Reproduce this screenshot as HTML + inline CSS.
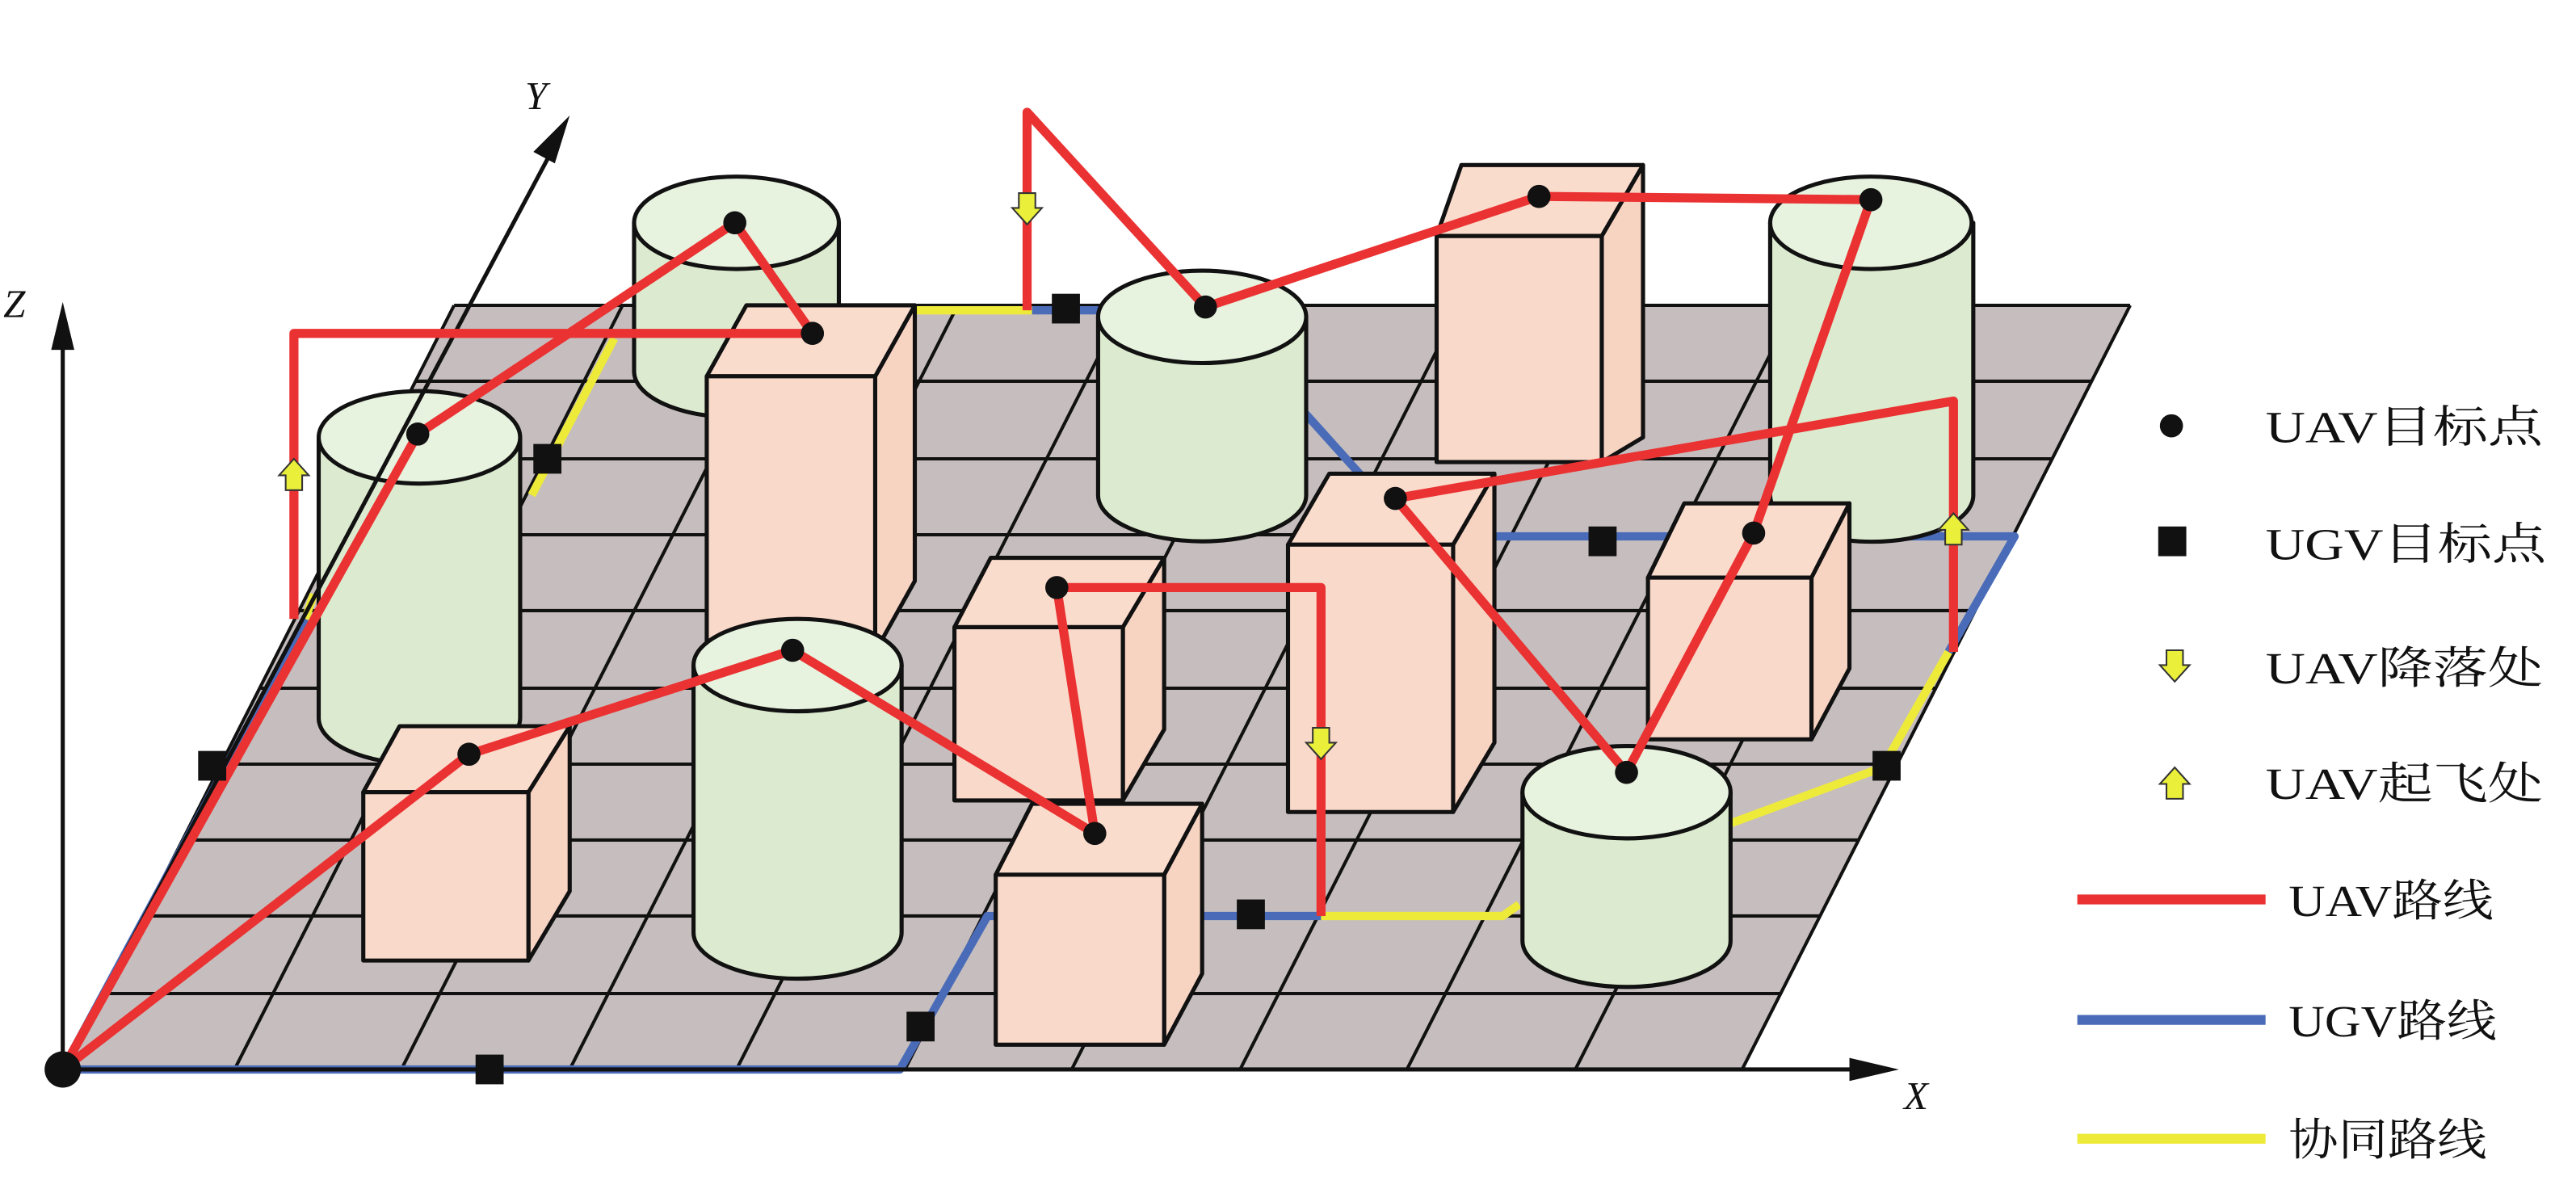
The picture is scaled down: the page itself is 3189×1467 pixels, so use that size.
<!DOCTYPE html>
<html><head><meta charset="utf-8"><style>html,body{margin:0;padding:0;background:#fff}svg{display:block}</style></head>
<body>
<svg width="3189" height="1467" viewBox="0 0 1560 718" preserveAspectRatio="none" xmlns="http://www.w3.org/2000/svg">
<defs>
<g id="dn"><path d="M-5,-10 L5,-10 L5,-1 L9,-1 L0,9 L-9,-1 L-5,-1 Z" fill="#eaf03a" stroke="#333" stroke-width="1"/></g>
<g id="up"><path d="M-5,10 L5,10 L5,1 L9,1 L0,-9 L-9,1 L-5,1 Z" fill="#eaf03a" stroke="#333" stroke-width="1"/></g>
</defs>
<rect width="1560" height="718" fill="#fff"/>
<polygon points="40,648 1055,648 1290,185 275,185" fill="#c6bebe"/>
<g stroke="#111" stroke-width="2">
<line x1="275" y1="185" x2="1290" y2="185"/>
<line x1="252" y1="231" x2="1267" y2="231"/>
<line x1="228" y1="278" x2="1243" y2="278"/>
<line x1="205" y1="324" x2="1220" y2="324"/>
<line x1="181" y1="370" x2="1196" y2="370"/>
<line x1="158" y1="417" x2="1173" y2="417"/>
<line x1="134" y1="463" x2="1149" y2="463"/>
<line x1="111" y1="509" x2="1126" y2="509"/>
<line x1="87" y1="555" x2="1102" y2="555"/>
<line x1="64" y1="602" x2="1079" y2="602"/>
<line x1="40" y1="648" x2="1055" y2="648"/>
<line x1="40" y1="648" x2="275" y2="185"/>
<line x1="142" y1="648" x2="377" y2="185"/>
<line x1="243" y1="648" x2="478" y2="185"/>
<line x1="345" y1="648" x2="580" y2="185"/>
<line x1="446" y1="648" x2="681" y2="185"/>
<line x1="548" y1="648" x2="783" y2="185"/>
<line x1="649" y1="648" x2="884" y2="185"/>
<line x1="751" y1="648" x2="986" y2="185"/>
<line x1="852" y1="648" x2="1087" y2="185"/>
<line x1="954" y1="648" x2="1189" y2="185"/>
<line x1="1055" y1="648" x2="1290" y2="185"/>
</g>
<g fill="none" stroke-width="5" stroke-linejoin="round">
<polyline points="38,648 545,648 598,555 740,555 800,555" stroke="#4a6bb8"/>
<polyline points="38,648 185,375" stroke="#4a6bb8"/>
<polyline points="800,555 910,555 920,548" stroke="#eeea3a"/>
<polyline points="1045,500 1140,465 1180,395" stroke="#eeea3a"/>
<polyline points="1180,395 1220,325 905,325" stroke="#4a6bb8"/>
<polyline points="835,300 790,250" stroke="#4a6bb8"/>
<polyline points="185,375 190,360" stroke="#eeea3a"/>
<polyline points="322,300 372,205" stroke="#eeea3a"/>
<polyline points="555,188 625,188" stroke="#eeea3a"/>
<polyline points="625,188 665,188" stroke="#4a6bb8"/>
</g>
<g stroke="#111" stroke-width="2.5" stroke-linejoin="round">
<path d="M384,135 L384,225 A62,28 0 0 0 508,225 L508,135 Z" fill="#dcebcf"/>
<ellipse cx="446" cy="135" rx="62" ry="28" fill="#e7f2df"/>
<polygon points="995,100 995,265 970,280 970,143" fill="#f7d3c2"/>
<polygon points="870,143 885,100 995,100 970,143" fill="#fadccd"/>
<rect x="870" y="143" width="100" height="137" fill="#f9d9c9"/>
<path d="M1072,135 L1072,300 A61,28 0 0 0 1195,300 L1195,135 Z" fill="#dcebcf"/>
<ellipse cx="1133" cy="135" rx="61" ry="28" fill="#e7f2df"/>
<path d="M665,192 L665,300 A63,28 0 0 0 791,300 L791,192 Z" fill="#dcebcf"/>
<ellipse cx="728" cy="192" rx="63" ry="28" fill="#e7f2df"/>
<polygon points="554,185 554,352 530,395 530,228" fill="#f7d3c2"/>
<polygon points="428,228 452,185 554,185 530,228" fill="#fadccd"/>
<rect x="428" y="228" width="102" height="167" fill="#f9d9c9"/>
<path d="M193,265 L193,435 A61,28 0 0 0 315,435 L315,265 Z" fill="#dcebcf"/>
<ellipse cx="254" cy="265" rx="61" ry="28" fill="#e7f2df"/>
<polygon points="905,287 905,450 880,492 880,330" fill="#f7d3c2"/>
<polygon points="780,330 805,287 905,287 880,330" fill="#fadccd"/>
<rect x="780" y="330" width="100" height="162" fill="#f9d9c9"/>
<polygon points="1120,305 1120,405 1097,448 1097,350" fill="#f7d3c2"/>
<polygon points="998,350 1020,305 1120,305 1097,350" fill="#fadccd"/>
<rect x="998" y="350" width="99" height="98" fill="#f9d9c9"/>
<polygon points="705,338 705,442 680,485 680,380" fill="#f7d3c2"/>
<polygon points="578,380 600,338 705,338 680,380" fill="#fadccd"/>
<rect x="578" y="380" width="102" height="105" fill="#f9d9c9"/>
<path d="M420,403 L420,565 A63,28 0 0 0 546,565 L546,403 Z" fill="#dcebcf"/>
<ellipse cx="483" cy="403" rx="63" ry="28" fill="#e7f2df"/>
<polygon points="345,440 345,540 320,582 320,480" fill="#f7d3c2"/>
<polygon points="220,480 242,440 345,440 320,480" fill="#fadccd"/>
<rect x="220" y="480" width="100" height="102" fill="#f9d9c9"/>
<path d="M922,480 L922,570 A63,28 0 0 0 1048,570 L1048,480 Z" fill="#dcebcf"/>
<ellipse cx="985" cy="480" rx="63" ry="28" fill="#e7f2df"/>
<polygon points="728,487 728,590 705,633 705,530" fill="#f7d3c2"/>
<polygon points="603,530 625,487 728,487 705,530" fill="#fadccd"/>
<rect x="603" y="530" width="102" height="103" fill="#f9d9c9"/>
</g>
<g stroke="#111" stroke-width="2.5" fill="#111">
<line x1="38" y1="648" x2="38" y2="200"/>
<polygon points="38,183 31,212 45,212" stroke="none"/>
<line x1="38" y1="648" x2="1130" y2="648"/>
<polygon points="1150,648 1120,641 1120,655" stroke="none"/>
<line x1="38" y1="648" x2="336" y2="88"/>
<polygon points="345,70 323,92 336,99" stroke="none"/>
</g>
<g font-family="Liberation Serif, serif" font-style="italic" font-size="24" fill="#111">
<text x="2" y="192">Z</text>
<text x="318" y="66">Y</text>
<text x="1153" y="672">X</text>
</g>
<g fill="none" stroke="#ea3232" stroke-width="5.5" stroke-linejoin="round">
<polyline points="38,648 253,263 445,135 492,202 178,202 178,375"/>
<polyline points="38,648 284,457 480,394 663,505 640,356 800,356 800,555"/>
<polyline points="622,188 622,68 730,186 932,119 1133,121 1062,323 985,468 845,302 1183,243 1183,395"/>
</g>
<g fill="#111">
<circle cx="38" cy="648" r="11"/>
<circle cx="253" cy="263" r="7"/><circle cx="445" cy="135" r="7"/><circle cx="492" cy="202" r="7"/>
<circle cx="284" cy="457" r="7"/><circle cx="480" cy="394" r="7"/><circle cx="663" cy="505" r="7"/>
<circle cx="640" cy="356" r="7"/><circle cx="730" cy="186" r="7"/><circle cx="932" cy="119" r="7"/>
<circle cx="1133" cy="121" r="7"/><circle cx="1062" cy="323" r="7"/><circle cx="985" cy="468" r="7"/>
<circle cx="845" cy="302" r="7"/>
<rect x="120" y="455" width="17" height="18"/><rect x="288" y="639" width="17" height="18"/>
<rect x="549" y="613" width="17" height="18"/><rect x="749" y="545" width="17" height="18"/>
<rect x="962" y="319" width="17" height="18"/><rect x="1134" y="455" width="17" height="18"/>
<rect x="323" y="269" width="17" height="18"/><rect x="637" y="178" width="17" height="18"/>
</g>
<use href="#up" x="178" y="287"/>
<use href="#dn" x="622" y="127"/>
<use href="#dn" x="800" y="451"/>
<use href="#up" x="1183" y="320"/>
<circle cx="1315" cy="258" r="7" fill="#111"/>
<rect x="1307" y="319" width="17" height="18" fill="#111"/>
<use href="#dn" x="1317" y="404"/>
<use href="#up" x="1317" y="474"/>
<line x1="1258" y1="545" x2="1372" y2="545" stroke="#ea3232" stroke-width="6"/>
<line x1="1258" y1="618" x2="1372" y2="618" stroke="#4a6bb8" stroke-width="6"/>
<line x1="1258" y1="690" x2="1372" y2="690" stroke="#eeea3a" stroke-width="6"/>
<g font-family="Liberation Serif, 'Noto Serif CJK SC', serif" font-size="27" fill="#111">
<text x="1372" y="268" textLength="168" lengthAdjust="spacingAndGlyphs">UAV目标点</text>
<text x="1372" y="339" textLength="170" lengthAdjust="spacingAndGlyphs">UGV目标点</text>
<text x="1372" y="414" textLength="168" lengthAdjust="spacingAndGlyphs">UAV降落处</text>
<text x="1372" y="484" textLength="168" lengthAdjust="spacingAndGlyphs">UAV起飞处</text>
<text x="1386" y="555" textLength="124" lengthAdjust="spacingAndGlyphs">UAV路线</text>
<text x="1386" y="628" textLength="126" lengthAdjust="spacingAndGlyphs">UGV路线</text>
<text x="1386" y="700" textLength="120" lengthAdjust="spacingAndGlyphs">协同路线</text>
</g>
</svg>
</body></html>
